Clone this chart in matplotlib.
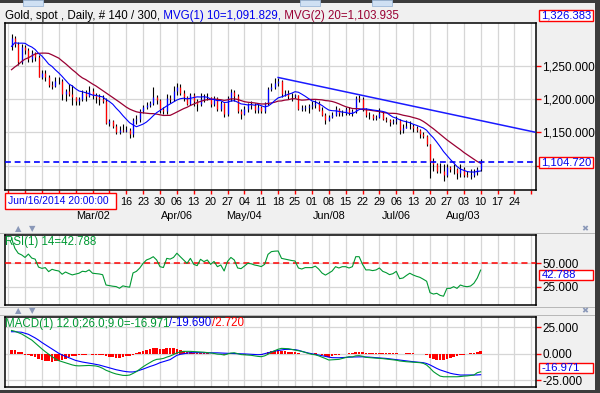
import numpy as np
import pandas as pd
import matplotlib
matplotlib.use('Agg')
import matplotlib.pyplot as plt
import matplotlib.transforms as mtransforms
from matplotlib.patches import Rectangle

plt.rcParams['font.family'] = ['Liberation Sans', 'DejaVu Sans']
FS = 8.3        # header / panel labels
FS_TICK = 8.5   # right axis values
FS_VAL = 8.1    # values in the red boxes
FS_X = 7.8      # date axis
FS_BOX = 7.5    # date box

# ---------------- data: gold spot, daily bars from 2015-01-27 ----------------
first_day = '2015-01-27'
closes_prior = [1200, 1184, 1186, 1204, 1219, 1211, 1208, 1216, 1233, 1234,
                1229, 1264, 1277, 1277, 1294, 1293, 1301, 1293, 1280]

opens = [1280, 1292, 1284, 1256, 1279, 1274, 1261, 1270, 1264, 1234,
         1240, 1234, 1221, 1220, 1227, 1228, 1208, 1212, 1208, 1204,
         1198, 1200, 1209, 1205, 1213, 1207, 1203, 1200, 1198, 1164,
         1167, 1160, 1150, 1153, 1152, 1154, 1148, 1168, 1170, 1183,
         1188, 1191, 1195, 1203, 1199, 1186, 1183, 1202, 1200, 1212,
         1219, 1210, 1203, 1193, 1207, 1198, 1193, 1200, 1204, 1204,
         1193, 1202, 1186, 1194, 1178, 1202, 1211, 1205, 1182, 1178,
         1186, 1193, 1192, 1184, 1189, 1183, 1194, 1216, 1219, 1225,
         1227, 1208, 1210, 1205, 1205, 1206, 1186, 1187, 1188, 1190,
         1191, 1194, 1184, 1176, 1168, 1174, 1176, 1185, 1180, 1179,
         1186, 1180, 1182, 1202, 1201, 1185, 1176, 1176, 1172, 1173,
         1179, 1171, 1168, 1165, 1167, 1168, 1153, 1157, 1160, 1159,
         1156, 1154, 1148, 1145, 1132, 1106, 1102, 1092, 1091, 1085,
         1097, 1095, 1095, 1089, 1095, 1086, 1084, 1085, 1090, 1094]
highs = [1299, 1296, 1287, 1284, 1282, 1277, 1275, 1272, 1267, 1244,
         1245, 1236, 1227, 1233, 1234, 1230, 1216, 1223, 1221, 1204,
         1203, 1214, 1214, 1220, 1217, 1210, 1208, 1206, 1202, 1171,
         1168, 1163, 1159, 1162, 1159, 1157, 1172, 1177, 1186, 1192,
         1196, 1198, 1219, 1207, 1200, 1189, 1208, 1206, 1220, 1224,
         1223, 1214, 1205, 1209, 1209, 1200, 1209, 1208, 1209, 1204,
         1205, 1203, 1197, 1195, 1205, 1215, 1214, 1208, 1185, 1190,
         1195, 1198, 1194, 1193, 1190, 1196, 1218, 1224, 1232, 1232,
         1229, 1214, 1214, 1210, 1208, 1207, 1191, 1191, 1193, 1197,
         1199, 1197, 1188, 1180, 1177, 1181, 1190, 1187, 1184, 1188,
         1188, 1186, 1205, 1207, 1204, 1187, 1181, 1178, 1177, 1187,
         1181, 1174, 1170, 1170, 1175, 1170, 1163, 1168, 1167, 1163,
         1160, 1155, 1150, 1146, 1132, 1111, 1104, 1104, 1102, 1103,
         1099, 1103, 1096, 1102, 1097, 1092, 1095, 1095, 1098, 1110]
lows = [1275, 1279, 1252, 1254, 1268, 1257, 1256, 1258, 1233, 1230,
        1227, 1218, 1215, 1218, 1223, 1199, 1197, 1205, 1191, 1192,
        1192, 1198, 1197, 1204, 1200, 1195, 1191, 1194, 1162, 1160,
        1157, 1147, 1147, 1150, 1150, 1142, 1143, 1162, 1166, 1180,
        1185, 1188, 1192, 1193, 1180, 1178, 1178, 1195, 1198, 1206,
        1206, 1198, 1191, 1191, 1190, 1183, 1190, 1196, 1199, 1189,
        1190, 1183, 1183, 1174, 1175, 1198, 1198, 1180, 1170, 1176,
        1181, 1186, 1180, 1180, 1179, 1180, 1192, 1212, 1216, 1220,
        1203, 1205, 1200, 1198, 1202, 1184, 1183, 1182, 1180, 1186,
        1187, 1182, 1175, 1162, 1167, 1172, 1175, 1175, 1175, 1177,
        1176, 1175, 1180, 1196, 1183, 1173, 1171, 1168, 1168, 1172,
        1169, 1165, 1160, 1163, 1163, 1148, 1149, 1156, 1155, 1151,
        1150, 1142, 1141, 1130, 1081, 1092, 1088, 1089, 1077, 1083,
        1090, 1087, 1080, 1083, 1083, 1082, 1080, 1083, 1085, 1092]
closes = [1292, 1284, 1256, 1279, 1274, 1261, 1270, 1264, 1234, 1240,
          1234, 1221, 1220, 1227, 1228, 1208, 1212, 1208, 1204, 1198,
          1200, 1209, 1205, 1213, 1207, 1203, 1200, 1198, 1164, 1167,
          1160, 1150, 1153, 1152, 1154, 1148, 1168, 1170, 1183, 1188,
          1191, 1195, 1203, 1199, 1186, 1183, 1202, 1200, 1212, 1219,
          1210, 1203, 1193, 1207, 1198, 1193, 1200, 1204, 1204, 1193,
          1202, 1186, 1194, 1178, 1202, 1211, 1205, 1182, 1178, 1186,
          1193, 1192, 1184, 1189, 1183, 1194, 1216, 1219, 1225, 1227,
          1208, 1210, 1205, 1205, 1206, 1186, 1187, 1188, 1190, 1191,
          1194, 1184, 1176, 1168, 1174, 1176, 1185, 1180, 1179, 1186,
          1180, 1182, 1202, 1201, 1185, 1176, 1176, 1172, 1173, 1179,
          1171, 1168, 1165, 1167, 1168, 1153, 1157, 1160, 1159, 1156,
          1154, 1148, 1145, 1132, 1106, 1102, 1092, 1091, 1085, 1097,
          1095, 1095, 1089, 1095, 1086, 1084, 1085, 1090, 1094, 1104.72]

rsi = [76.8, 66.0, 60.7, 59.0, 56.3, 59.9, 55.6, 54.5, 46.0, 44.6,
       45.4, 41.1, 43.6, 42.5, 41.8, 38.3, 40.7, 39.0, 37.6, 38.5,
       39.4, 41.5, 41.0, 43.0, 39.4, 39.0, 38.6, 37.8, 26.8, 26.1,
       25.5, 25.1, 23.3, 25.9, 25.0, 24.5, 39.7, 41.4, 45.0, 50.0,
       53.6, 55.0, 57.1, 53.6, 46.4, 45.5, 55.3, 54.5, 56.3, 60.8,
       57.1, 53.6, 50.0, 55.3, 48.9, 47.5, 54.3, 51.8, 53.6, 48.9,
       52.0, 46.4, 48.2, 41.8, 52.0, 56.3, 53.6, 45.0, 44.3, 47.0,
       50.0, 49.5, 48.2, 47.5, 46.5, 48.9, 59.6, 62.5, 63.0, 63.2,
       55.3, 54.5, 53.6, 53.0, 52.5, 45.0, 43.9, 45.4, 45.4, 45.4,
       47.0, 43.9, 39.6, 37.4, 39.5, 41.8, 46.4, 45.0, 46.4, 46.4,
       45.0, 46.4, 57.1, 57.1, 48.9, 42.9, 43.0, 42.2, 42.9, 45.0,
       41.4, 40.0, 37.9, 38.9, 41.4, 33.6, 34.3, 37.0, 39.4, 37.5,
       36.1, 35.0, 33.0, 30.8, 18.6, 17.1, 17.9, 15.7, 14.8, 23.2,
       23.2, 25.0, 23.2, 26.8, 25.5, 25.0, 25.7, 28.6, 34.3, 42.788]

macd = [21.8, 21.0, 19.7, 18.5, 16.6, 14.8, 12.8, 10.0, 7.2, 4.5,
        1.9, -0.5, -2.8, -4.8, -6.5, -7.5, -8.4, -9.5, -10.5, -11.2,
        -11.4, -11.3, -11.2, -11.0, -11.2, -11.5, -12.3, -13.7, -15.5, -16.8,
        -18.0, -19.0, -19.7, -20.3, -20.4, -20.0, -18.5, -16.8, -14.5, -12.2,
        -10.2, -8.4, -6.5, -5.3, -5.0, -4.4, -3.2, -2.2, -0.8, 0.9,
        1.6, 2.2, 2.2, 2.2, 2.0, 1.8, 1.6, 1.4, 1.0, 0.6,
        0.3, -0.4, -0.6, -1.2, -0.3, 0.6, 0.9, 0.0, -0.8, -1.0,
        -1.2, -1.5, -2.0, -2.5, -2.8, -2.0, -0.5, 1.5, 2.8, 4.2,
        5.0, 4.9, 4.7, 4.0, 3.4, 2.8, 2.2, 1.2, 0.2, -0.6,
        -1.0, -2.0, -3.2, -4.5, -5.9, -5.7, -5.5, -5.3, -4.5, -3.7,
        -2.8, -3.0, -2.0, -1.8, -2.4, -3.4, -3.6, -3.9, -4.2, -4.4,
        -4.6, -5.0, -5.4, -5.9, -6.1, -6.8, -7.2, -7.5, -7.7, -8.0,
        -8.2, -8.4, -9.0, -10.6, -13.5, -16.8, -19.0, -21.0, -21.6, -21.6,
        -21.6, -21.6, -21.6, -21.4, -21.0, -20.8, -20.4, -20.0, -17.8, -16.971]
signal = [20.6, 20.6, 20.4, 20.1, 19.2, 18.2, 16.5, 14.8, 12.8, 10.5,
          8.5, 6.5, 4.6, 2.5, 0.4, -1.2, -2.5, -3.9, -5.2, -6.3,
          -7.1, -7.8, -8.3, -8.8, -9.4, -10.0, -10.6, -11.5, -12.5, -13.4,
          -14.3, -15.0, -15.7, -16.3, -16.8, -17.1, -17.1, -16.5, -15.5, -14.4,
          -13.2, -12.0, -11.0, -9.8, -8.4, -7.5, -6.5, -5.5, -3.5, -1.5,
          -0.6, 0.0, 0.5, 0.9, 1.0, 1.0, 0.9, 0.9, 0.9, 0.9,
          0.9, 0.8, 0.6, 0.5, 0.4, 0.3, 0.3, 0.2, 0.0, -0.2,
          -0.4, -0.6, -0.8, -0.9, -0.8, 0.0, 0.8, 1.5, 2.5, 3.0,
          3.6, 4.0, 4.1, 4.0, 3.8, 3.2, 2.2, 1.4, 0.6, 0.0,
          -0.5, -1.2, -1.8, -2.5, -3.2, -3.7, -3.8, -3.8, -3.6, -3.4,
          -3.3, -3.1, -3.0, -2.8, -2.9, -3.0, -3.2, -3.4, -3.7, -4.0,
          -4.2, -4.4, -4.8, -5.3, -5.6, -5.9, -6.3, -6.8, -7.2, -7.5,
          -7.8, -8.0, -8.4, -9.2, -10.5, -12.2, -13.8, -15.2, -16.2, -17.3,
          -18.3, -19.0, -19.5, -20.0, -20.0, -20.0, -20.0, -20.0, -19.9, -19.69]
hist = [3.8, 3.5, 1.5, 1.2, -0.8, -1.5, -2.0, -3.0, -4.5, -5.5,
        -6.5, -7.2, -7.5, -7.3, -6.8, -6.0, -4.8, -3.5, -2.6, -1.8,
        -1.2, -0.8, -0.9, -0.6, -0.9, -1.2, -1.5, -1.4, -2.5, -3.0,
        -3.5, -3.8, -3.6, -3.2, -2.6, -2.2, -0.8, 0.5, 1.8, 3.0,
        3.8, 4.5, 5.5, 5.6, 4.8, 4.4, 5.2, 5.0, 4.9, 4.6,
        3.8, 2.9, 1.8, 1.5, 0.9, 0.4, 0.3, 0.4, 0.4, 0.1,
        0.2, -0.4, -0.3, -0.9, -0.2, 0.6, 0.8, 0.0, -0.6, -0.8,
        -0.6, -0.5, -0.7, -0.6, -0.8, -0.3, 1.2, 2.2, 3.0, 3.4,
        2.6, 2.2, 1.8, 1.5, 1.3, 0.2, 0.0, -0.2, -0.2, 0.0,
        0.2, -0.6, -1.5, -2.6, -2.8, -2.5, -1.6, -1.0, -0.6, 0.0,
        0.3, 0.6, 1.8, 2.0, 1.5, 0.9, 0.8, 0.6, 0.6, 1.0,
        0.7, 0.5, 0.3, 0.4, 0.5, -0.2, 0.1, 0.3, 0.4, 0.3,
        0.1, -0.3, -0.5, -1.4, -3.6, -4.8, -5.6, -6.0, -6.0, -5.0,
        -4.0, -3.0, -2.6, -1.4, -0.8, 0.0, 0.4, 1.0, 1.5, 2.72]

# trend line drawn on the chart (bar index, price)
trend_bar = [79, 155]
trend_price = [1233, 1150.5]

month_starts = ['2015-03-02', '2015-04-06', '2015-05-04', '2015-06-08', '2015-07-06', '2015-08-03']
week_label_range = ('2015-03-16', '2015-08-24')

price_ticks = [1100, 1150, 1200, 1250]
price_labelled = [1150, 1200, 1250]      # 1,100 sits under the last-price box
rsi_ticks = [25, 50]
macd_ticks = [-25, 0, 25]

header_parts = [('Gold, spot , Daily, # 140 / 300,', 'black'),
                (' MVG(1) 10=1,091.829,', '#0000ee'),
                (' MVG(2) 20=1,103.935', '#990033')]
rsi_label = 'RSI(1) 14=42.788'
macd_parts = [('MACD(1) 12.0;26.0;9.0=-16.971', '#009933'),
              ('/-19.690', '#0000ee'),
              ('/2.720', '#ff0000')]

# ---------------- derived series ----------------
n = len(closes)
x = np.arange(n)
allc = pd.Series(closes_prior + closes)
ma10 = allc.rolling(10).mean().iloc[len(closes_prior):].values
ma20 = allc.rolling(20).mean().iloc[len(closes_prior):].values

d0 = np.datetime64(first_day)
def bar_pos(d):
    return np.busday_count(d0, np.datetime64(d, 'D'))

mondays = pd.date_range('2015-01-26', '2015-08-31', freq='W-MON')
mpos = [bar_pos(d.strftime('%Y-%m-%d')) for d in mondays]
wlabels = [d.strftime('%d') if week_label_range[0] <= d.strftime('%Y-%m-%d') <= week_label_range[1] else ''
           for d in mondays]

# ---------------- figure layout (pixels) ----------------
W, H = 600, 393
BG = '#f0f0f0'
GRID = '#d6d6d6'
fig = plt.figure(figsize=(6, 3.93), dpi=100, facecolor=BG)

def fbox(x0, y0, x1, y1):
    return [x0 / W, 1 - y1 / H, (x1 - x0) / W, (y1 - y0) / H]

def frect(x0, y0, x1, y1, **kw):
    fig.patches.append(Rectangle((x0 / W, 1 - y1 / H), (x1 - x0) / W, (y1 - y0) / H,
                                 transform=fig.transFigure, figure=fig, **kw))

def ftext(px, py, s, **kw):
    return fig.text(px / W, 1 - py / H, s, **kw)

# outer frame, top tabs and pane separators
frect(0, 0, 600, 3, facecolor='#3c3c3c', edgecolor='none')
frect(595, 0, 600, 393, facecolor='#3c3c3c', edgecolor='none')
frect(0, 390, 600, 393, facecolor='#3c3c3c', edgecolor='none')
for tx in (23, 300, 372):
    frect(tx, 0, tx + 20, 6, facecolor='#cfe0f3', edgecolor='#9db8d8', lw=0.6)
for yy in (233, 307, 315):
    frect(0, yy, 595, yy + 1, facecolor='#b8b8b8', edgecolor='none')

ax1 = fig.add_axes(fbox(5, 23, 536, 190))
ax2 = fig.add_axes(fbox(5, 235, 536, 305))
ax3 = fig.add_axes(fbox(5, 317, 536, 387))

fmt3 = matplotlib.ticker.FuncFormatter(lambda v, p: f'{v:,.3f}')
xlim = (-1.93, 155.4)
for ax in (ax1, ax2, ax3):
    ax.set_facecolor('white')
    ax.set_xlim(*xlim)
    ax.set_axisbelow(True)
    for s in ax.spines.values():
        s.set_color('black')
        s.set_linewidth(1.1)
    ax.yaxis.tick_right()
    ax.tick_params(axis='y', colors='red', labelcolor='black', length=3.5, width=1,
                   labelsize=FS_TICK, pad=1)
    ax.set_xticks(mpos)
    ax.grid(True, color=GRID, lw=0.9)

ax2.tick_params(axis='x', length=0, labelbottom=False)
ax3.tick_params(axis='x', length=0, labelbottom=False)
ax1.set_xticklabels(wlabels)
ax1.tick_params(axis='x', colors='red', labelcolor='black', length=3, width=1,
                labelsize=FS_X, pad=2)

# ---------------- price panel ----------------
ax1.set_ylim(1063, 1315.3)
ax1.set_yticks(price_ticks)
ax1.set_yticklabels([f'{v:,.3f}' if v in price_labelled else '' for v in price_ticks])

o = np.array(opens); c = np.array(closes)
ax1.vlines(x, lows, highs, color='black', lw=0.8, zorder=3)
up = c >= o
ax1.vlines(x[up], o[up], c[up], color='#0000ff', lw=0.9, zorder=4)
ax1.vlines(x[~up], o[~up], c[~up], color='#ff0000', lw=0.9, zorder=4)
ax1.plot(x, ma20, color='#990033', lw=0.9, zorder=5)
ax1.plot(x, ma10, color='#0000ff', lw=0.8, zorder=5)
ax1.plot(trend_bar, trend_price, color='#1a1aff', lw=1.1, zorder=5)
ax1.axhline(closes[-1], color='#0000ff', lw=1.2, dashes=(3.5, 2.3), zorder=5)

trans = mtransforms.blended_transform_factory(ax1.transData, ax1.transAxes)
for m in month_starts:
    ax1.text(bar_pos(m), -0.156, pd.Timestamp(m).strftime('%b/%d'), transform=trans,
             ha='center', va='center', fontsize=FS_X)

# ---------------- RSI panel ----------------
ax2.set_ylim(5.4, 80.3)
ax2.set_yticks(rsi_ticks)
ax2.yaxis.set_major_formatter(fmt3)
ax2.plot(x, rsi, color='#009933', lw=0.8, zorder=4)
ax2.axhline(50, color='#ff0000', lw=1.1, dashes=(4, 2.5), zorder=3)

# ---------------- MACD panel ----------------
ax3.set_ylim(-31.2, 34.4)
ax3.set_yticks(macd_ticks)
ax3.yaxis.set_major_formatter(fmt3)
ax3.bar(x, hist, width=0.8, color='#ff0000', zorder=3)
ax3.plot(x, signal, color='#0000ff', lw=0.8, zorder=4)
ax3.plot(x, macd, color='#009933', lw=0.8, zorder=5)

# ---------------- texts and value boxes ----------------
renderer = fig.canvas.get_renderer()
def parts_text(px, py, parts, size):
    for s, col in parts:
        t = ftext(px, py, s, color=col, fontsize=size, ha='left', va='center')
        px += t.get_window_extent(renderer).width

parts_text(5, 15.5, header_parts, FS)
ftext(5, 242, rsi_label, color='#009933', fontsize=FS, ha='left', va='center')
parts_text(5, 323.5, macd_parts, FS)

def value_box(x0, y0, x1, y1, s, size=FS_VAL):
    frect(x0, y0, x1, y1, facecolor='white', edgecolor='red', lw=1.0, zorder=10)
    ftext(x0 + 2.5, (y0 + y1) / 2, s, color='#0000ee', fontsize=size, ha='left', va='center', zorder=11)

value_box(539, 10, 593, 21, '1,326.383')
value_box(539, 157, 593, 168, f'{closes[-1]:,.3f}')
value_box(539, 270, 593, 280, f'{rsi[-1]:.3f}')
value_box(539, 363, 593, 373, f'{macd[-1]:.3f}')
value_box(5, 193, 116, 209, 'Jun/16/2014 20:00:00', FS_BOX)

# little pane buttons
for yy in (229, 311):
    ftext(18, yy, '\u25b2', color='#8a98b8', fontsize=6, ha='center', va='center', family='DejaVu Sans')
    ftext(32, yy, '\u25bc', color='#8a98b8', fontsize=6, ha='center', va='center', family='DejaVu Sans')
    ftext(585, yy, '\u2716', color='#8a98b8', fontsize=6, ha='center', va='center', family='DejaVu Sans')

fig.savefig('out.png', dpi=100, facecolor=BG)
